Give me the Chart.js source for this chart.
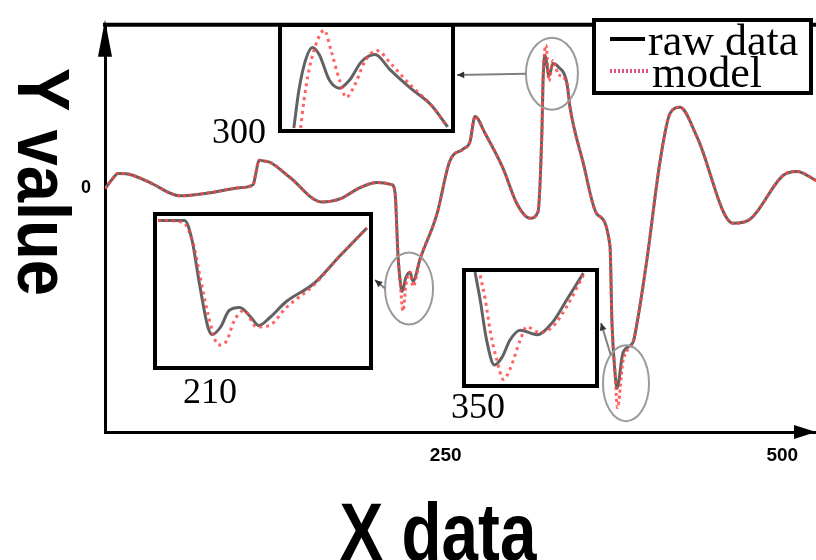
<!DOCTYPE html>
<html>
<head>
<meta charset="utf-8">
<script src="https://cdn.jsdelivr.net/npm/chart.js@4.4.1/dist/chart.umd.min.js"></script>
<style>
  body { margin: 0; background: #fff; }
  #wrap { position: relative; width: 816px; height: 560px; overflow: hidden; }
  #main { position: absolute; left: 0; top: 0; }
  .inset { position: absolute; border: 4px solid #000; background: #fff; box-sizing: border-box; }
  .inset canvas { display: block; }
</style>
</head>
<body>
<div id="wrap">
  <canvas id="main" width="816" height="560"></canvas>
</div>
<script>
// main series (x data, Y value)
const rawX = [-3, 2.2, 6.7, 15.6, 30.4, 52.7, 75, 97.3, 107, 109, 111.4, 116, 119.5, 134.4, 158, 171.5, 186.4, 199, 210, 212.4,
  214.6, 216, 217.6, 220.5, 223.5, 225.7, 231, 243.5, 253, 263, 268, 271.8, 279, 292.6, 303, 312.6, 318.5, 321.5, 322.3, 323.7,
  326.7, 329.7, 333.4, 340.1, 342.3, 352, 362.4, 372, 373.5, 375.7, 377.2, 381.7, 389.1, 392.1, 399.5, 409.2, 416.6, 424, 436.6, 463.4,
  476, 500.5, 510.9, 525];
const rawY = [-0.01, 0.08, 0.14, 0.13, 0.05, -0.08, -0.05, 0, 0.03, 0.14, 0.27, 0.26, 0.25, 0.10, -0.14, -0.11, 0, 0.05, 0.03, -0.05,
  -0.67, -0.89, -1.02, -0.88, -0.83, -0.92, -0.70, -0.26, 0.26, 0.38, 0.45, 0.70, 0.54, 0.19, -0.16, -0.30, -0.24, 0.57, 1.05, 1.30,
  1.10, 1.22, 1.19, 1.02, 0.79, 0.25, -0.26, -0.57, -1.33, -1.81, -1.97, -1.62, -1.52, -1.33, -0.70, 0.26, 0.73, 0.79, 0.50, -0.35,
  -0.31, 0.12, 0.16, 0.07];
const modelX = [-3, 2.2, 6.7, 15.6, 30.4, 52.7, 75, 97.3, 107, 109, 111.4, 116, 119.5, 134.4, 158, 171.5, 186.4, 199, 210, 212.4,
  214.6, 216, 218.3, 220.5, 223.5, 225.7, 231, 243.5, 253, 263, 268, 271.8, 279, 292.6, 303, 312.6, 318.5, 321.5, 322.3, 324.5,
  326.7, 329.7, 333.4, 340.1, 342.3, 352, 362.4, 372, 373.5, 375.7, 377.6, 381.7, 389.1, 392.1, 399.5, 409.2, 416.6, 424, 436.6, 463.4,
  476, 500.5, 510.9, 525];
const modelY = [-0.01, 0.08, 0.14, 0.13, 0.05, -0.08, -0.05, 0, 0.03, 0.14, 0.27, 0.26, 0.25, 0.10, -0.14, -0.11, 0, 0.05, 0.03, -0.05,
  -0.67, -0.89, -1.21, -0.95, -0.83, -0.97, -0.70, -0.26, 0.26, 0.38, 0.45, 0.70, 0.54, 0.19, -0.16, -0.30, -0.24, 0.57, 1.05, 1.40,
  1.05, 1.25, 1.12, 1.02, 0.79, 0.25, -0.26, -0.57, -1.33, -1.81, -2.16, -1.70, -1.52, -1.33, -0.70, 0.26, 0.73, 0.79, 0.50, -0.35,
  -0.31, 0.12, 0.16, 0.07];
const xTicks = [250, 500];
const yTicks = [0];

// zoomed insets (0-100 inside each box)
const insetARawX = [7, 10, 14, 18, 22, 28, 34, 40, 47, 55, 64, 76, 88, 98];
const insetARawY = [1, 38, 68, 80, 73, 48, 40, 48, 66, 73, 58, 40, 24, 2];
const insetAModelX = [11, 13, 16, 21, 25, 29, 34, 38, 43, 49, 56, 65, 76, 88, 98];
const insetAModelY = [1, 28, 58, 87, 97, 77, 48, 31, 43, 66, 77, 63, 43, 24, 2];

const insetBRawX = [0.5, 13, 16.5, 20, 24, 26, 30, 34, 39, 44, 48, 53, 61, 74, 86, 99];
const insetBRawY = [97, 97, 84, 55, 26, 21, 26, 37, 39, 33, 27, 32, 43, 55, 73, 92];
const insetBModelX = [0.5, 12, 17, 20, 24, 29, 33, 36, 41, 47, 53, 61, 74, 86, 99];
const insetBModelY = [97, 96, 82, 62, 35, 14, 17, 29, 37, 26, 27, 39, 54, 73, 92];

const insetCRawX = [7, 11, 16, 22, 28, 34, 42, 55, 67, 78, 91];
const insetCRawY = [100, 75, 39, 17, 24, 39, 48, 44, 55, 75, 99];
const insetCModelX = [11, 15, 19, 24, 29, 34, 42, 47, 57, 67, 78, 91];
const insetCModelY = [97, 75, 46, 21, 4, 13, 39, 51, 46, 51, 69, 97];

const spotLabels = ['300', '210', '350'];

// layout of the boxes / marked spots (positions only)
const insetBoxes = [
  { id: 'A', left: 278, top: 23, width: 177, height: 110, labelX: 239, labelY: 143, arrowY: 75,
    spot: { x: 328.9, y: 1.12, rx: 26, ry: 36, ang: Math.PI } },
  { id: 'B', left: 153, top: 212, width: 220, height: 158, labelX: 210, labelY: 403, arrowY: 280,
    spot: { x: 222.8, y: -0.99, rx: 24, ry: 36, ang: Math.PI } },
  { id: 'C', left: 462, top: 268, width: 137, height: 120, labelX: 478, labelY: 418, arrowY: 323,
    spot: { x: 383.9, y: -1.92, rx: 23, ry: 38, ang: -2.3 } }
];

const RAW_COLOR = '#626262';
const MODEL_COLOR = 'rgba(255,70,70,0.85)';

const pts = (xs, ys) => xs.map((x, i) => ({ x: x, y: ys[i] }));

const extras = {
  id: 'extras',
  afterDraw(chart) {
    const ctx = chart.ctx;
    const a = chart.chartArea;
    const xs = chart.scales.x, ys = chart.scales.y;
    ctx.save();

    // top frame
    ctx.strokeStyle = '#000';
    ctx.lineWidth = 4;
    ctx.beginPath();
    ctx.moveTo(a.left - 2, a.top);
    ctx.lineTo(a.right, a.top);
    ctx.stroke();

    // axis arrows
    ctx.fillStyle = '#000';
    ctx.beginPath();
    ctx.moveTo(a.left, a.top - 5);
    ctx.lineTo(a.left - 7, a.top + 32);
    ctx.lineTo(a.left + 7, a.top + 32);
    ctx.closePath();
    ctx.fill();
    ctx.beginPath();
    ctx.moveTo(a.right, a.bottom);
    ctx.lineTo(a.right - 22, a.bottom - 7);
    ctx.lineTo(a.right - 22, a.bottom + 7);
    ctx.closePath();
    ctx.fill();

    // marked spots + arrows to insets + labels
    insetBoxes.forEach((b, i) => {
      const s = b.spot;
      const cx = xs.getPixelForValue(s.x), cy = ys.getPixelForValue(s.y);
      ctx.strokeStyle = '#9a9a9a';
      ctx.lineWidth = 2;
      ctx.beginPath();
      ctx.ellipse(cx, cy, s.rx, s.ry, 0, 0, Math.PI * 2);
      ctx.stroke();

      const sx = cx + s.rx * Math.cos(s.ang), sy = cy + s.ry * Math.sin(s.ang);
      const ex = b.left + b.width + 2, ey = b.arrowY;
      ctx.strokeStyle = '#808080';
      ctx.beginPath();
      ctx.moveTo(sx, sy);
      ctx.lineTo(ex, ey);
      ctx.stroke();
      const ang = Math.atan2(ey - sy, ex - sx);
      ctx.fillStyle = '#333';
      ctx.beginPath();
      ctx.moveTo(ex, ey);
      ctx.lineTo(ex - 8 * Math.cos(ang - 0.45), ey - 8 * Math.sin(ang - 0.45));
      ctx.lineTo(ex - 8 * Math.cos(ang + 0.45), ey - 8 * Math.sin(ang + 0.45));
      ctx.closePath();
      ctx.fill();

      ctx.fillStyle = '#000';
      ctx.font = '36px "Liberation Serif"';
      ctx.textAlign = 'center';
      ctx.textBaseline = 'alphabetic';
      ctx.fillText(spotLabels[i], b.labelX, b.labelY);
    });

    // legend
    ctx.fillStyle = '#fff';
    ctx.fillRect(594, 20, 217, 73);
    ctx.strokeStyle = '#000';
    ctx.lineWidth = 4;
    ctx.strokeRect(594, 20, 217, 73);
    ctx.lineWidth = 4;
    ctx.strokeStyle = '#000';
    ctx.beginPath();
    ctx.moveTo(610, 39);
    ctx.lineTo(645, 39);
    ctx.stroke();
    ctx.strokeStyle = '#e0507a';
    ctx.setLineDash([2, 2]);
    ctx.beginPath();
    ctx.moveTo(610, 71);
    ctx.lineTo(648, 71);
    ctx.stroke();
    ctx.setLineDash([]);
    ctx.fillStyle = '#000';
    ctx.font = '44px "Liberation Serif"';
    ctx.textAlign = 'left';
    ctx.fillText('raw data', 648, 55);
    ctx.fillText('model', 652, 87);

    // axis titles
    ctx.font = 'bold 74px "Liberation Sans"';
    ctx.textAlign = 'center';
    ctx.save();
    ctx.translate(18, 182);
    ctx.rotate(Math.PI / 2);
    ctx.scale(0.88, 1);
    ctx.fillText('Y value', 0, 0);
    ctx.restore();
    ctx.save();
    ctx.font = 'bold 82px "Liberation Sans"';
    ctx.translate(438, 560);
    ctx.scale(0.8, 1);
    ctx.fillText('X data', 0, 0);
    ctx.restore();

    ctx.restore();
  }
};

new Chart(document.getElementById('main'), {
  type: 'line',
  data: {
    datasets: [
      { label: 'raw data', data: pts(rawX, rawY), borderColor: RAW_COLOR, borderWidth: 3, pointRadius: 0,
        cubicInterpolationMode: 'monotone', order: 2 },
      { label: 'model', data: pts(modelX, modelY), borderColor: MODEL_COLOR, borderWidth: 3, borderDash: [3, 3],
        pointRadius: 0, cubicInterpolationMode: 'monotone', order: 1 }
    ]
  },
  options: {
    responsive: false,
    animation: false,
    events: [],
    layout: { padding: { left: 75, top: 12, right: 0, bottom: 88 } },
    plugins: { legend: { display: false }, tooltip: { enabled: false } },
    scales: {
      x: {
        type: 'linear', min: -3, max: 525,
        afterFit(s) { s.height = 40; },
        afterBuildTicks(s) { s.ticks = xTicks.map(v => ({ value: v })); },
        grid: { display: false, drawTicks: false },
        border: { display: true, color: '#000', width: 3 },
        ticks: { color: '#000', padding: 12, maxRotation: 0, autoSkip: false,
          font: { family: 'Liberation Sans', size: 19, weight: 'bold' } }
      },
      y: {
        min: -2.4, max: 1.6,
        afterFit(s) { s.width = 30; },
        afterBuildTicks(s) { s.ticks = yTicks.map(v => ({ value: v })); },
        grid: { display: false, drawTicks: false },
        border: { display: true, color: '#000', width: 3 },
        ticks: { color: '#000', padding: 14, font: { family: 'Liberation Sans', size: 18, weight: 'bold' } }
      }
    }
  },
  plugins: [extras]
});

// insets
const insetData = {
  A: [pts(insetARawX, insetARawY), pts(insetAModelX, insetAModelY)],
  B: [pts(insetBRawX, insetBRawY), pts(insetBModelX, insetBModelY)],
  C: [pts(insetCRawX, insetCRawY), pts(insetCModelX, insetCModelY)]
};

const wrap = document.getElementById('wrap');
insetBoxes.forEach(b => {
  const div = document.createElement('div');
  div.className = 'inset';
  div.style.left = b.left + 'px';
  div.style.top = b.top + 'px';
  div.style.width = b.width + 'px';
  div.style.height = b.height + 'px';
  const cv = document.createElement('canvas');
  cv.width = b.width - 8;
  cv.height = b.height - 8;
  div.appendChild(cv);
  wrap.appendChild(div);

  new Chart(cv, {
    type: 'line',
    data: {
      datasets: [
        { data: insetData[b.id][0], borderColor: RAW_COLOR, borderWidth: 3, pointRadius: 0,
          cubicInterpolationMode: 'monotone', order: 2 },
        { data: insetData[b.id][1], borderColor: MODEL_COLOR, borderWidth: 3, borderDash: [3, 4],
          pointRadius: 0, cubicInterpolationMode: 'monotone', order: 1 }
      ]
    },
    options: {
      responsive: false,
      animation: false,
      events: [],
      layout: { padding: 0 },
      plugins: { legend: { display: false }, tooltip: { enabled: false } },
      scales: {
        x: { type: 'linear', min: 0, max: 100, display: false },
        y: { min: 0, max: 100, display: false }
      }
    }
  });
});
</script>
</body>
</html>
